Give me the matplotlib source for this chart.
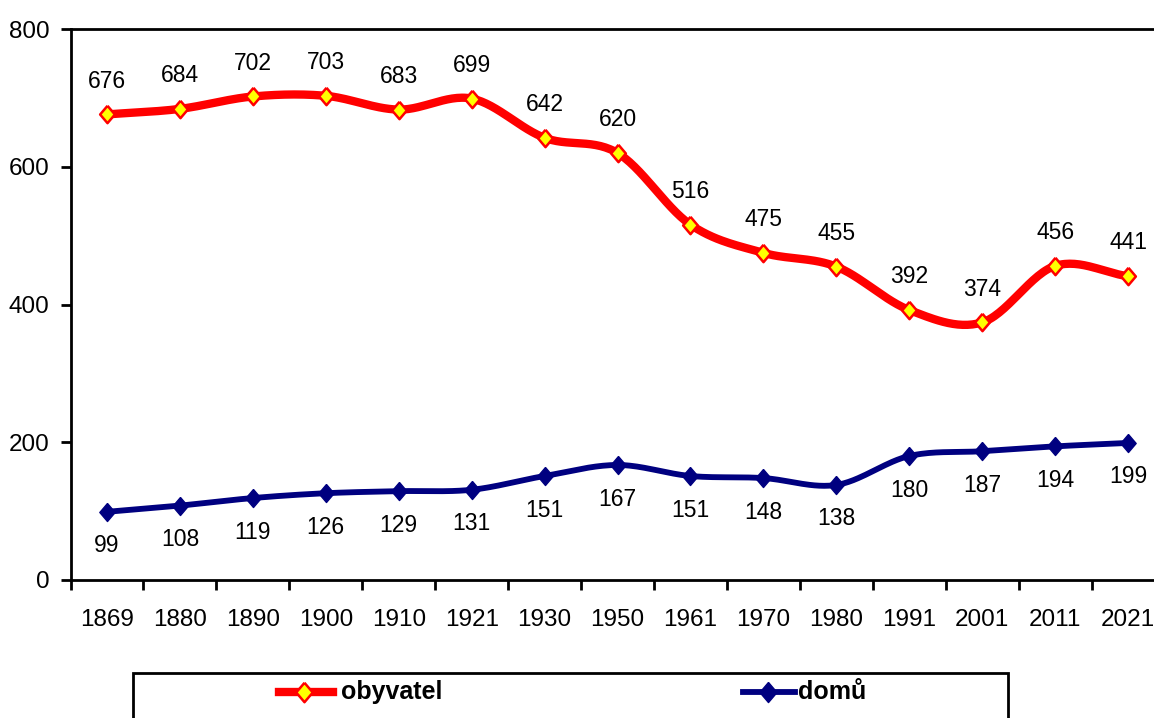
import numpy as np
import matplotlib
matplotlib.use("Agg")
import matplotlib.pyplot as plt
from matplotlib.lines import Line2D
from matplotlib.patches import Rectangle

years = ["1869", "1880", "1890", "1900", "1910", "1921", "1930", "1950",
         "1961", "1970", "1980", "1991", "2001", "2011", "2021"]
obyvatel = [676, 684, 702, 703, 683, 699, 642, 620, 516, 475, 455, 392, 374, 456, 441]
domu = [99, 108, 119, 126, 129, 131, 151, 167, 151, 148, 138, 180, 187, 194, 199]

plt.rcParams['font.family'] = ['Liberation Sans', 'DejaVu Sans']

W, H = 1154, 718
FS_TICK = 17.5
FS_LAB = 16.5
FS_LEG = 18
fig = plt.figure(figsize=(W / 100, H / 100), dpi=100)
ax = fig.add_axes([70.5 / W, (H - 580) / H, 1094 / W, 551 / H])

def smooth(x, y, n=30):
    x = np.asarray(x, float); y = np.asarray(y, float)
    px = np.concatenate([[2 * x[0] - x[1]], x, [2 * x[-1] - x[-2]]])
    py = np.concatenate([[2 * y[0] - y[1]], y, [2 * y[-1] - y[-2]]])
    xs, ys = [], []
    t = np.linspace(0, 1, n, endpoint=False)
    k = 1 / 6.0
    for i in range(1, len(px) - 2):
        p0x, p1x, p2x, p3x = px[i - 1], px[i], px[i + 1], px[i + 2]
        p0y, p1y, p2y, p3y = py[i - 1], py[i], py[i + 1], py[i + 2]
        c1x = p1x + (p2x - p0x) * k; c1y = p1y + (p2y - p0y) * k
        c2x = p2x - (p3x - p1x) * k; c2y = p2y - (p3y - p1y) * k
        bx = (1 - t) ** 3 * p1x + 3 * (1 - t) ** 2 * t * c1x + 3 * (1 - t) * t ** 2 * c2x + t ** 3 * p2x
        by = (1 - t) ** 3 * p1y + 3 * (1 - t) ** 2 * t * c1y + 3 * (1 - t) * t ** 2 * c2y + t ** 3 * p2y
        xs.append(bx); ys.append(by)
    xs.append([x[-1]]); ys.append([y[-1]])
    return np.concatenate(xs), np.concatenate(ys)

RED_LW, NAVY_LW = 6, 4.2
diamond = [(0, 1), (0.85, 0), (0, -1), (-0.85, 0), (0, 1)]
RED_MS, NAVY_MS = 12.5, 13

x = np.arange(len(years))
sx, sy = smooth(x, obyvatel)
ax.plot(sx, sy, color='#FF0000', lw=RED_LW, solid_capstyle='round', zorder=3)
ax.plot(x, obyvatel, ls='none', marker=diamond, ms=RED_MS, mfc='#FFFF00', mec='#FF0000', mew=1.8, zorder=4)
sx, sy = smooth(x, domu)
ax.plot(sx, sy, color='#000080', lw=NAVY_LW, solid_capstyle='round', zorder=3)
ax.plot(x, domu, ls='none', marker=diamond, ms=NAVY_MS, mfc='#000080', mec='#000080', zorder=4)

for xi, v in zip(x, obyvatel):
    ax.annotate(str(v), (xi, v), xytext=(0, 24), textcoords='offset points',
                ha='center', va='center', fontsize=FS_LAB)
for xi, v in zip(x, domu):
    ax.annotate(str(v), (xi, v), xytext=(0, -24.5), textcoords='offset points',
                ha='center', va='center', fontsize=FS_LAB)

ax.set_xlim(-0.5, len(years) - 0.5)
ax.set_ylim(0, 800)
ax.set_yticks([0, 200, 400, 600, 800])
ax.set_xticks(x)
ax.set_xticklabels(years)
ax.set_xticks(np.arange(-0.5, len(years), 1), minor=True)
ax.tick_params(axis='x', which='major', length=0, pad=21, labelsize=FS_TICK)
ax.tick_params(axis='x', which='minor', length=7, width=2, direction='out')
ax.tick_params(axis='y', length=7, width=2, labelsize=FS_TICK, pad=8)
for s in ['left', 'bottom', 'top', 'right']:
    ax.spines[s].set_linewidth(2)
    ax.spines[s].set_color('black')

# legend box
LY = (H - 692) / H
fig.patches.append(Rectangle((133 / W, -0.05), 875 / W, (H - 673) / H + 0.05,
                             transform=fig.transFigure, fill=False, ec='black', lw=2))
fig.lines.append(Line2D([279 / W, 333 / W], [LY] * 2, transform=fig.transFigure,
                        color='#FF0000', lw=RED_LW))
fig.lines.append(Line2D([304 / W], [LY], transform=fig.transFigure, ls='none',
                        marker=diamond, ms=RED_MS + 1.5, mfc='#FFFF00', mec='#FF0000', mew=1.8))
fig.text(341 / W, LY, 'obyvatel', fontsize=FS_LEG, fontweight='bold', va='center', ha='left')
fig.lines.append(Line2D([743 / W, 795 / W], [LY] * 2, transform=fig.transFigure,
                        color='#000080', lw=NAVY_LW))
fig.lines.append(Line2D([768 / W], [LY], transform=fig.transFigure, ls='none',
                        marker=diamond, ms=NAVY_MS + 1.5, mfc='#000080', mec='#000080'))
fig.text(798 / W, LY, 'domů', fontsize=FS_LEG, fontweight='bold', va='center', ha='left')

fig.savefig('out.png', dpi=100)
